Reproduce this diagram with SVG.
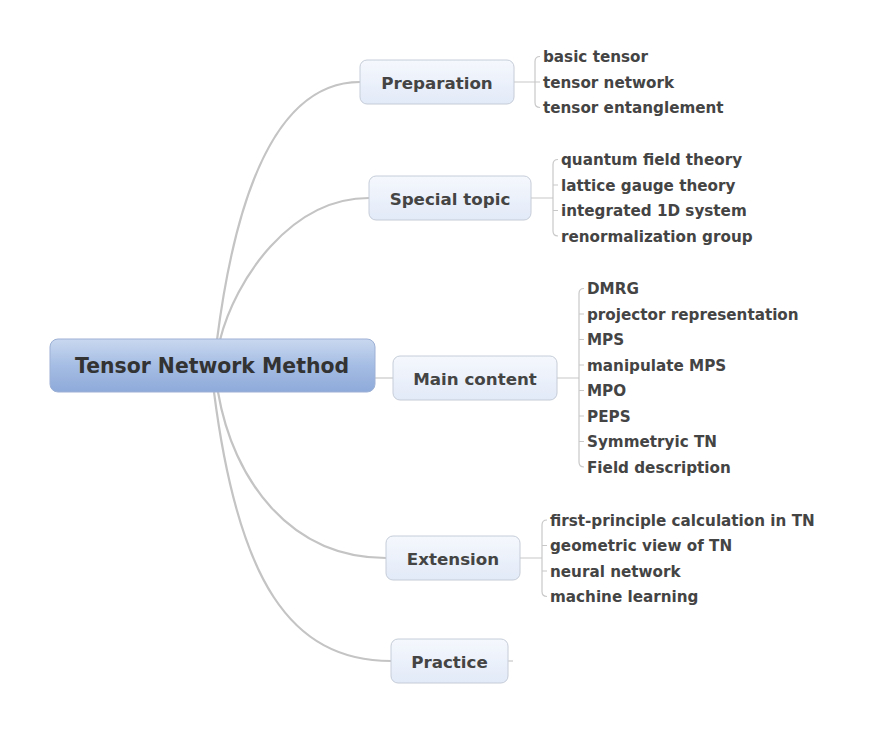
<svg xmlns="http://www.w3.org/2000/svg" width="870" height="732" viewBox="0 0 870 732">
<defs>
<linearGradient id="gRoot" x1="0" y1="0" x2="0" y2="1">
<stop offset="0" stop-color="#c9d8ef"/>
<stop offset="0.5" stop-color="#a5bde4"/>
<stop offset="1" stop-color="#8eaad9"/>
</linearGradient>
<linearGradient id="gNode" x1="0" y1="0" x2="0" y2="1">
<stop offset="0" stop-color="#f5f8fd"/>
<stop offset="1" stop-color="#e2eaf8"/>
</linearGradient>
<style>
.main{fill:none;stroke:#c4c4c4;stroke-width:2.2;stroke-linecap:round}
.sub{fill:none;stroke:#c8c8c8;stroke-width:1.2}
.box{fill:url(#gNode);stroke:#c6cdd8;stroke-width:1}
.root{fill:url(#gRoot);stroke:#9db1d5;stroke-width:1}
.rt{font-family:"DejaVu Sans",Verdana,sans-serif;font-weight:bold;font-size:20.4px;fill:#333;text-anchor:middle}
.nt{font-family:"DejaVu Sans",Verdana,sans-serif;font-weight:bold;font-size:16.7px;fill:#444;text-anchor:middle}
.ct{font-family:"DejaVu Sans",Verdana,sans-serif;font-weight:bold;font-size:15.2px;fill:#444}
</style>
</defs>
<rect width="870" height="732" fill="#fff"/>
<g id="connectors">
<path class="main" d="M217,340 C240,160 290,82 360,82"/>
<path class="main" d="M220,340 C235,280 290,198 369,198"/>
<path class="main" d="M218,392 C233,480 290,558 386,558"/>
<path class="main" d="M214,392 C238,580 290,661 391,661"/>
<path class="sub" d="M375,378 L393,378"/>
<path class="sub" d="M514,82 L535,82 M540,56.5 Q535,56.5 535,61.5 L535,102.5 Q535,107.5 540,107.5 M535,82 L540,82"/>
<path class="sub" d="M531,198 L553,198 M558,159.5 Q553,159.5 553,164.5 L553,231 Q553,236 558,236 M553,185 L558,185 M553,210.5 L558,210.5"/>
<path class="sub" d="M557,378 L579,378 M584,288.5 Q579,288.5 579,293.5 L579,462 Q579,467 584,467 M579,314 L584,314 M579,339.5 L584,339.5 M579,365 L584,365 M579,390.5 L584,390.5 M579,416 L584,416 M579,441.5 L584,441.5"/>
<path class="sub" d="M520,558 L542,558 M547,520 Q542,520 542,525 L542,591.5 Q542,596.5 547,596.5 M542,545.5 L547,545.5 M542,571 L547,571"/>
<path class="sub" d="M508,661 L513,661"/>
</g>
<g id="root">
<rect class="root" x="50" y="339" width="325" height="53" rx="8"/>
<text class="rt" x="212" y="372.5">Tensor Network Method</text>
</g>
<g id="preparation">
<rect class="box" x="360" y="60" width="154" height="44" rx="7"/>
<text class="nt" x="437" y="88.5">Preparation</text>
<text class="ct" x="543" y="62">basic tensor</text>
<text class="ct" x="543" y="87.5">tensor network</text>
<text class="ct" x="543" y="113">tensor entanglement</text>
</g>
<g id="special">
<rect class="box" x="369" y="176" width="162" height="44" rx="7"/>
<text class="nt" x="450" y="204.5">Special topic</text>
<text class="ct" x="561" y="165">quantum field theory</text>
<text class="ct" x="561" y="190.5">lattice gauge theory</text>
<text class="ct" x="561" y="216">integrated 1D system</text>
<text class="ct" x="561" y="241.5">renormalization group</text>
</g>
<g id="main">
<rect class="box" x="393" y="356" width="164" height="44" rx="7"/>
<text class="nt" x="475" y="384.5">Main content</text>
<text class="ct" x="587" y="294">DMRG</text>
<text class="ct" x="587" y="319.5">projector representation</text>
<text class="ct" x="587" y="345">MPS</text>
<text class="ct" x="587" y="370.5">manipulate MPS</text>
<text class="ct" x="587" y="396">MPO</text>
<text class="ct" x="587" y="421.5">PEPS</text>
<text class="ct" x="587" y="447">Symmetryic TN</text>
<text class="ct" x="587" y="472.5">Field description</text>
</g>
<g id="extension">
<rect class="box" x="386" y="536" width="134" height="44" rx="7"/>
<text class="nt" x="453" y="564.5">Extension</text>
<text class="ct" x="550" y="525.5">first-principle calculation in TN</text>
<text class="ct" x="550" y="551">geometric view of TN</text>
<text class="ct" x="550" y="576.5">neural network</text>
<text class="ct" x="550" y="602">machine learning</text>
</g>
<g id="practice">
<rect class="box" x="391" y="639" width="117" height="44" rx="7"/>
<text class="nt" x="449.5" y="667.5">Practice</text>
</g>
</svg>
